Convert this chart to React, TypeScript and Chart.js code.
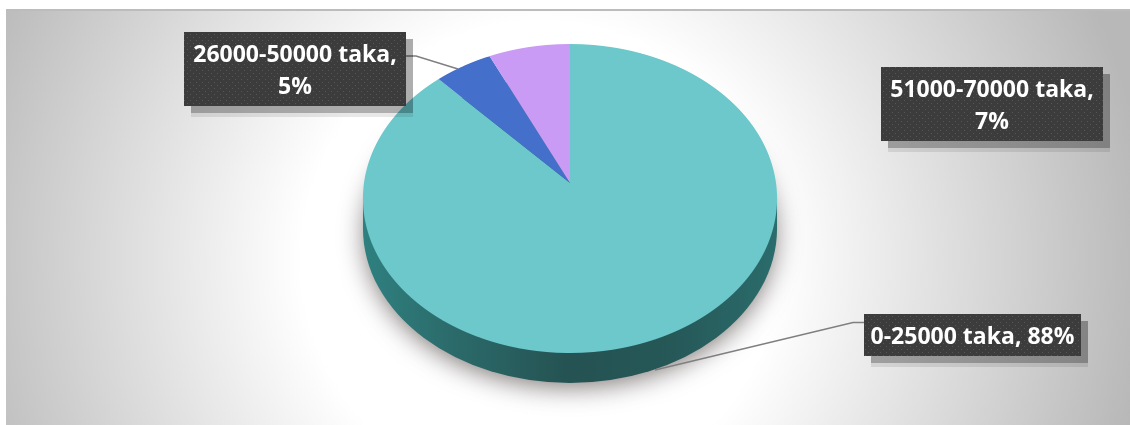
import { useEffect, useRef } from "react";
import { Chart, registerables } from "chart.js";

Chart.register(...registerables);

const categories = ["0-25000 taka", "26000-50000 taka", "51000-70000 taka"];
const shares = [88, 5, 7];
const sliceColors = ["#6CC8CB", "#4470CC", "#C99BF5"];

const WIDTH = 1130;
const HEIGHT = 425;
const FONT = "bold 23px 'Open Sans'";

// Tilted disc: how far the rim sits from the pie centre, in pixels on screen.
const RIM_UP = 139;
const RIM_DOWN = 170;
const RIM_SIDE = 206;
const DEPTH = 30;

// Callout boxes and their leader lines, indexed like the categories.
const callouts = [
  { x: 864, y: 314, w: 217, h: 42, line: [[864, 322.5], [853, 322.5], [655, 370]] },
  { x: 184, y: 32, w: 222, h: 74, line: [[406, 56], [416, 56], [458, 69]] },
  { x: 881, y: 67, w: 222, h: 74, line: [] as number[][] },
];

const sheetBackground = {
  id: "sheetBackground",
  beforeDraw(chart: Chart) {
    const { ctx } = chart;
    const g = ctx.createRadialGradient(540, 260, 0, 540, 260, 610);
    g.addColorStop(0, "#ffffff");
    g.addColorStop(0.39, "#ffffff");
    g.addColorStop(1, "#b8b8b8");
    ctx.save();
    ctx.fillStyle = "#ffffff";
    ctx.fillRect(0, 0, WIDTH, HEIGHT);
    ctx.fillStyle = g;
    ctx.fillRect(6, 9, WIDTH - 6, HEIGHT - 9);
    ctx.fillStyle = "#bcbcbc";
    ctx.fillRect(6, 9, WIDTH - 6, 2);
    ctx.restore();
  },
};

// Draws the pie row by row through a perspective mapping, above an extruded rim.
const tiltedDisc = {
  id: "tiltedDisc",
  beforeDatasetDraw(chart: Chart, args: any) {
    const { ctx } = chart;
    const meta = args.meta;
    const arc = meta.data[0] as any;
    const cx = arc.x;
    const cy = arc.y;
    const R = arc.outerRadius;

    const k = (RIM_UP - RIM_DOWN) / (RIM_UP + RIM_DOWN);
    const a = RIM_DOWN * (1 + k);
    const midY = cy + (RIM_DOWN - RIM_UP) / 2;
    const midR = (RIM_DOWN + RIM_UP) / 2;
    const sideR = RIM_SIDE * 1.005;

    // soft cast shadow from the bottom of the disc
    ctx.save();
    ctx.shadowColor = "rgba(70,60,60,0.65)";
    ctx.shadowBlur = 24;
    ctx.shadowOffsetY = 6;
    ctx.fillStyle = "#2a6a6a";
    ctx.beginPath();
    ctx.ellipse(cx, midY + DEPTH, sideR - 1, midR - 1, 0, 0, Math.PI * 2);
    ctx.fill();
    ctx.restore();

    const wall = ctx.createLinearGradient(cx - sideR, 0, cx + sideR, 0);
    wall.addColorStop(0, "#2F8080");
    wall.addColorStop(0.2, "#2C6C6C");
    wall.addColorStop(0.5, "#255252");
    wall.addColorStop(0.75, "#265858");
    wall.addColorStop(1, "#2B6C6C");
    ctx.save();
    ctx.fillStyle = wall;
    ctx.beginPath();
    ctx.ellipse(cx, midY + DEPTH, sideR, midR, 0, 0, Math.PI);
    ctx.lineTo(cx - sideR, midY);
    ctx.lineTo(cx + sideR, midY);
    ctx.closePath();
    ctx.fill();
    ctx.restore();

    for (let y = Math.floor(cy - RIM_UP) - 1; y <= Math.ceil(cy + RIM_DOWN) + 1; y++) {
      const Y = y + 0.5 - cy;
      const v = Y / (a - k * Y);
      const w = 1 + k * v;
      const sx = RIM_SIDE / w / R;
      const sy = a / (w * w) / R;
      ctx.save();
      ctx.beginPath();
      ctx.rect(0, y, WIDTH, 1);
      ctx.clip();
      ctx.transform(sx, 0, 0, sy, cx * (1 - sx), y + 0.5 - sy * (cy + R * v));
      meta.controller.draw();
      ctx.restore();
    }
    return false;
  },
};

function dotPattern(ctx: CanvasRenderingContext2D) {
  const tile = document.createElement("canvas");
  tile.width = 6;
  tile.height = 6;
  const t = tile.getContext("2d")!;
  t.fillStyle = "#3C3C3C";
  t.fillRect(0, 0, 6, 6);
  t.fillStyle = "#565656";
  t.fillRect(1, 1, 1, 1);
  t.fillRect(4, 4, 1, 1);
  return ctx.createPattern(tile, "repeat")!;
}

const calloutLabels = {
  id: "calloutLabels",
  afterDatasetsDraw(chart: Chart) {
    const { ctx } = chart;
    ctx.save();
    callouts.forEach((box, i) => {
      if (box.line.length) {
        ctx.strokeStyle = "#7F7F7F";
        ctx.lineWidth = 1.4;
        ctx.beginPath();
        box.line.forEach(([x, y], j) => (j ? ctx.lineTo(x, y) : ctx.moveTo(x, y)));
        ctx.stroke();
      }
      ctx.fillStyle = "rgba(0,0,0,0.09)";
      ctx.fillRect(box.x + 7, box.y + 7, box.w, box.h + 4);
      ctx.fillStyle = "rgba(0,0,0,0.25)";
      ctx.fillRect(box.x + 7, box.y + 7, box.w, box.h);
      ctx.fillStyle = dotPattern(ctx);
      ctx.fillRect(box.x, box.y, box.w, box.h);

      ctx.font = FONT;
      ctx.fillStyle = "#ffffff";
      ctx.textAlign = "center";
      ctx.textBaseline = "alphabetic";
      const full = `${categories[i]}, ${shares[i]}%`;
      const lines = ctx.measureText(full).width > box.w - 12
        ? [`${categories[i]},`, `${shares[i]}%`]
        : [full];
      const mid = box.x + box.w / 2;
      const cyBox = box.y + box.h / 2;
      if (lines.length === 1) {
        ctx.fillText(lines[0], mid, cyBox + 9);
      } else {
        ctx.fillText(lines[0], mid, cyBox - 7);
        ctx.fillText(lines[1], mid, cyBox + 25);
      }
    });
    ctx.restore();
  },
};

export default function App() {
  const ref = useRef<HTMLCanvasElement>(null);
  useEffect(() => {
    const chart = new Chart(ref.current!, {
      type: "pie",
      data: {
        labels: categories,
        datasets: [{ data: shares, backgroundColor: sliceColors, borderWidth: 0 }],
      },
      options: {
        animation: false,
        responsive: false,
        layout: { padding: { top: 13, bottom: 72, left: 230, right: 220 } },
        plugins: { legend: { display: false }, tooltip: { enabled: false } },
      },
      plugins: [sheetBackground, tiltedDisc, calloutLabels],
    });
    return () => chart.destroy();
  }, []);
  return (
    <div style={{ position: "absolute", left: 0, top: 0 }}>
      <canvas ref={ref} width={WIDTH} height={HEIGHT} style={{ display: "block" }} />
    </div>
  );
}
